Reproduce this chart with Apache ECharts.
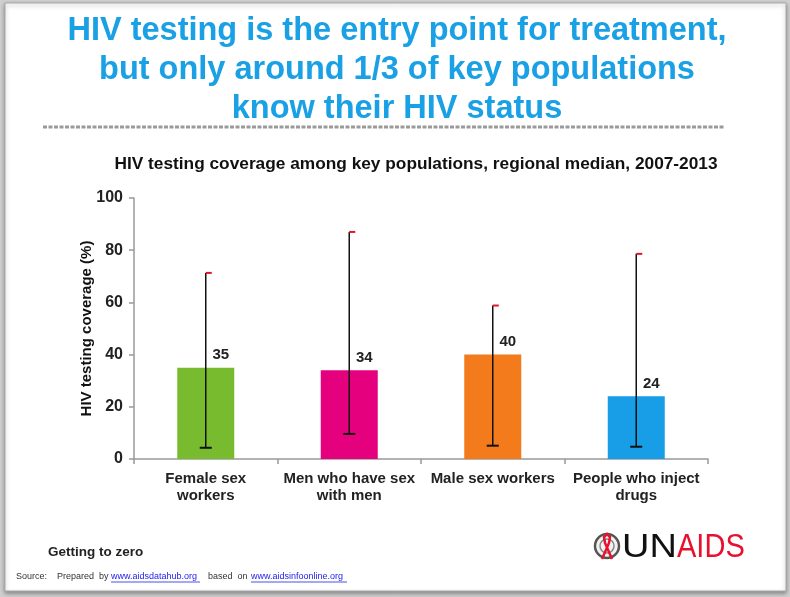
<!DOCTYPE html>
<html>
<head>
<meta charset="utf-8">
<script src="https://cdn.jsdelivr.net/npm/echarts@6/dist/echarts.min.js"></script>
<style>
html,body{margin:0;padding:0;background:#cfcfcf;}
#chart{width:790px;height:597px;}
</style>
</head>
<body>
<div id="chart"></div>
<script>
var categories = ['Female sex\nworkers', 'Men who have sex\nwith men', 'Male sex workers', 'People who inject\ndrugs'];
var medianValues = [35, 34, 40, 24];
var rangeLow = [4.3, 9.6, 5.1, 4.7];
var rangeHigh = [71.3, 87, 58.8, 78.6];
var barColors = ['#78bb2e', '#e5007d', '#f47b1c', '#179ee6'];
var yTicks = [0, 20, 40, 60, 80, 100];

var chart = echarts.init(document.getElementById('chart'));

var barData = medianValues.map(function (v, i) {
  return { value: v, itemStyle: { color: barColors[i] } };
});
var errData = categories.map(function (c, i) { return [i, rangeLow[i], rangeHigh[i]]; });

var F = '"Liberation Sans", Arial, sans-serif';

var option = {
  backgroundColor: '#cfcfcf',
  animation: false,
  title: [{
    text: 'HIV testing coverage among key populations, regional median, 2007-2013',
    left: 411, top: 151, textAlign: 'center',
    textStyle: { fontFamily: F, fontWeight: 'bold', fontSize: 17.3, color: '#111' }
  }],
  grid: { left: 134, right: 82, top: 198, bottom: 138, containLabel: false },
  xAxis: {
    type: 'category',
    data: categories,
    axisLine: { lineStyle: { color: '#999', width: 1.5 } },
    axisTick: { show: true, length: 5, lineStyle: { color: '#999', width: 1.5 } },
    axisLabel: { margin: 11, interval: 0, fontFamily: F, fontWeight: 'bold', fontSize: 15, lineHeight: 17, color: '#222' }
  },
  yAxis: {
    type: 'value', min: yTicks[0], max: yTicks[yTicks.length - 1], interval: 20,
    name: 'HIV testing coverage (%)', nameLocation: 'middle', nameGap: 40, nameMoveOverlap: false,
    nameTextStyle: { fontFamily: F, fontWeight: 'bold', fontSize: 15, color: '#111' },
    axisLine: { show: true, lineStyle: { color: '#999', width: 1.5 } },
    axisTick: { show: true, length: 5, lineStyle: { color: '#999', width: 1.5 } },
    axisLabel: { margin: 11, fontFamily: F, fontWeight: 'bold', fontSize: 16, color: '#222' },
    splitLine: { show: false }
  },
  series: [{
    type: 'bar',
    data: barData,
    barWidth: 57,
    label: { show: true, position: 'top', offset: [15, 0], distance: 5, fontFamily: F, fontWeight: 'bold', fontSize: 15, color: '#222' }
  }, {
    type: 'custom',
    data: errData,
    z: 10,
    renderItem: function (params, api) {
      var lo = api.coord([api.value(0), api.value(1)]);
      var hi = api.coord([api.value(0), api.value(2)]);
      return {
        type: 'group',
        children: [
          { type: 'line', shape: { x1: lo[0], y1: lo[1], x2: hi[0], y2: hi[1] }, style: { stroke: '#111', lineWidth: 1.5 } },
          { type: 'line', shape: { x1: lo[0] - 6, y1: lo[1], x2: lo[0] + 6, y2: lo[1] }, style: { stroke: '#111', lineWidth: 2 } },
          { type: 'line', shape: { x1: hi[0], y1: hi[1], x2: hi[0] + 6, y2: hi[1] }, style: { stroke: '#e8112d', lineWidth: 2 } }
        ]
      };
    }
  }],
  graphic: [
    { type: 'rect', z: -10, silent: true, shape: { x: 5, y: 3, width: 781, height: 588 }, style: { fill: '#fff', stroke: '#a8a8a8', lineWidth: 1, shadowBlur: 4, shadowColor: 'rgba(0,0,0,0.35)', shadowOffsetY: 2 } },
    { type: 'text', x: 397, y: 12, style: { text: 'HIV testing is the entry point for treatment,\nbut only around 1/3 of key populations\nknow their HIV status', align: 'center', verticalAlign: 'top', fontFamily: F, fontWeight: 'bold', fontSize: 32.5, lineHeight: 39, fill: '#1aa0e4' } },
    { type: 'line', shape: { x1: 43, y1: 127, x2: 725, y2: 127 }, style: { stroke: '#9a9a9a', lineWidth: 3, lineDash: [4, 1.5] } },
    { type: 'text', x: 48, y: 545, style: { text: 'Getting to zero', fontFamily: F, fontWeight: 'bold', fontSize: 13.5, fill: '#222' } },
    { type: 'text', x: 16, y: 572, style: { text: 'Source:', fontFamily: F, fontSize: 9, fill: '#333' } },
    { type: 'text', x: 57, y: 572, style: { text: 'Prepared  by', fontFamily: F, fontSize: 9, fill: '#333' } },
    { type: 'text', x: 111, y: 572, style: { text: 'www.aidsdatahub.org', fontFamily: F, fontSize: 9, fill: '#2222ee' } },
    { type: 'line', shape: { x1: 111, y1: 582, x2: 200, y2: 582 }, style: { stroke: '#2222ee', lineWidth: 0.8 } },
    { type: 'text', x: 208, y: 572, style: { text: 'based  on', fontFamily: F, fontSize: 9, fill: '#333' } },
    { type: 'text', x: 251, y: 572, style: { text: 'www.aidsinfoonline.org', fontFamily: F, fontSize: 9, fill: '#2222ee' } },
    { type: 'line', shape: { x1: 251, y1: 582, x2: 347, y2: 582 }, style: { stroke: '#2222ee', lineWidth: 0.8 } },
    { type: 'circle', shape: { cx: 607, cy: 546, r: 12 }, style: { fill: '#f2f2f2', stroke: '#555', lineWidth: 2.5 } },
    { type: 'circle', shape: { cx: 607, cy: 546, r: 7 }, style: { fill: 'none', stroke: '#888', lineWidth: 1.5 } },
    { type: 'polyline', shape: { points: [[602, 559], [609, 543], [610, 537], [607, 534], [604, 537], [605, 543], [612, 559]] }, style: { fill: 'none', stroke: '#e8112d', lineWidth: 2.5 } },
    { type: 'text', x: 622, y: 531, scaleX: 1.15, style: { text: 'UN', fontFamily: F, fontSize: 33, fill: '#111' } },
    { type: 'text', x: 677, y: 531, scaleX: 0.88, style: { text: 'AIDS', fontFamily: F, fontSize: 33, fill: '#e8112d' } }
  ]
};
chart.setOption(option);
</script>
</body>
</html>
